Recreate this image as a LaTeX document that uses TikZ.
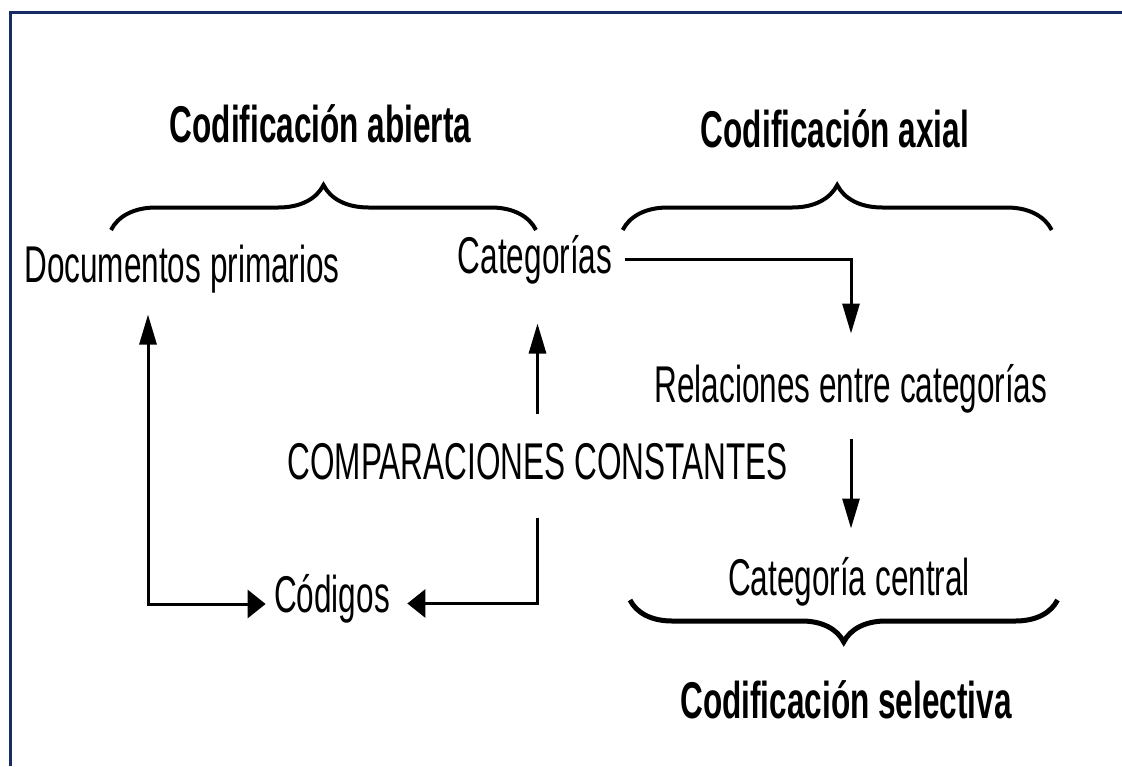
\documentclass[tikz,border=0pt]{standalone}
\usepackage{fontspec}
\usetikzlibrary{arrows.meta,decorations.pathreplacing}
\newfontfamily\narrowsans[FakeStretch=0.61]{Liberation Sans}
\definecolor{framecol}{RGB}{22,44,98}

\begin{document}
\begin{tikzpicture}[x=1pt,y=-1pt,line width=3pt,
  txt node/.style={anchor=base,inner sep=0pt,text height=37pt,text depth=10pt,
    font=\narrowsans\fontsize{51.7}{60}\selectfont},
  title node/.style={txt node,font=\narrowsans\bfseries\fontsize{51.7}{60}\selectfont},
  brace line/.style={decorate,decoration={brace,amplitude=#1},line width=4pt},
  vtip/.tip={Triangle[length=30pt,width=17pt]},
  htip/.tip={Triangle[length=18pt,width=28pt]}]

  \useasboundingbox (0,0) rectangle (1122,766);
  \draw[framecol,line width=3.5pt] (10.7,766) -- (10.7,12.5) -- (1122,12.5);

  % titles
  \node[title node] (abierta) at (320.5,142) {Codificación abierta};
  \node[title node] (axial) at (835,147) {Codificación axial};
  \node[title node] (selectiva) at (846,718) {Codificación selectiva};

  % texts
  \node[txt node] (doc) at (182,282) {Documentos primarios};
  \node[txt node] (cat) at (535,273) {Categorías};
  \node[txt node] (rel) at (851,402) {Relaciones entre categorías};
  \node[txt node,inner ysep=27pt] (comp) at (537.5,479) {COMPARACIONES CONSTANTES};
  \node[txt node] (cen) at (849,595) {Categoría central};
  \node[txt node] (cod) at (332,612) {Códigos};
  \coordinate (bend) at (148,604);

  % braces
  \draw[brace line=45pt] (111,230) -- (536,230);
  \draw[brace line=45pt] (622.7,230) -- (1051.7,230);
  \draw[brace line=42pt,line width=5pt] (1057.5,600) -- (630,600);

  % arrows
  \draw[-vtip,shorten <=11pt,shorten >=30pt] (cat.east) -| (rel.north);
  \draw[-vtip,shorten <=25pt,shorten >=28pt] (rel.south) -- (rel.south |- cen.north);
  \draw[-vtip,shorten >=39pt] (comp.north) -- (comp.north |- cat.south);
  \draw[-htip,shorten >=16pt] (comp.south) |- ([yshift=-5pt]cod.east);
  \draw[vtip-htip,shorten <=21pt,shorten >=7pt] (doc.south -| bend) |- (cod.west |- bend);

\end{tikzpicture}
\end{document}
